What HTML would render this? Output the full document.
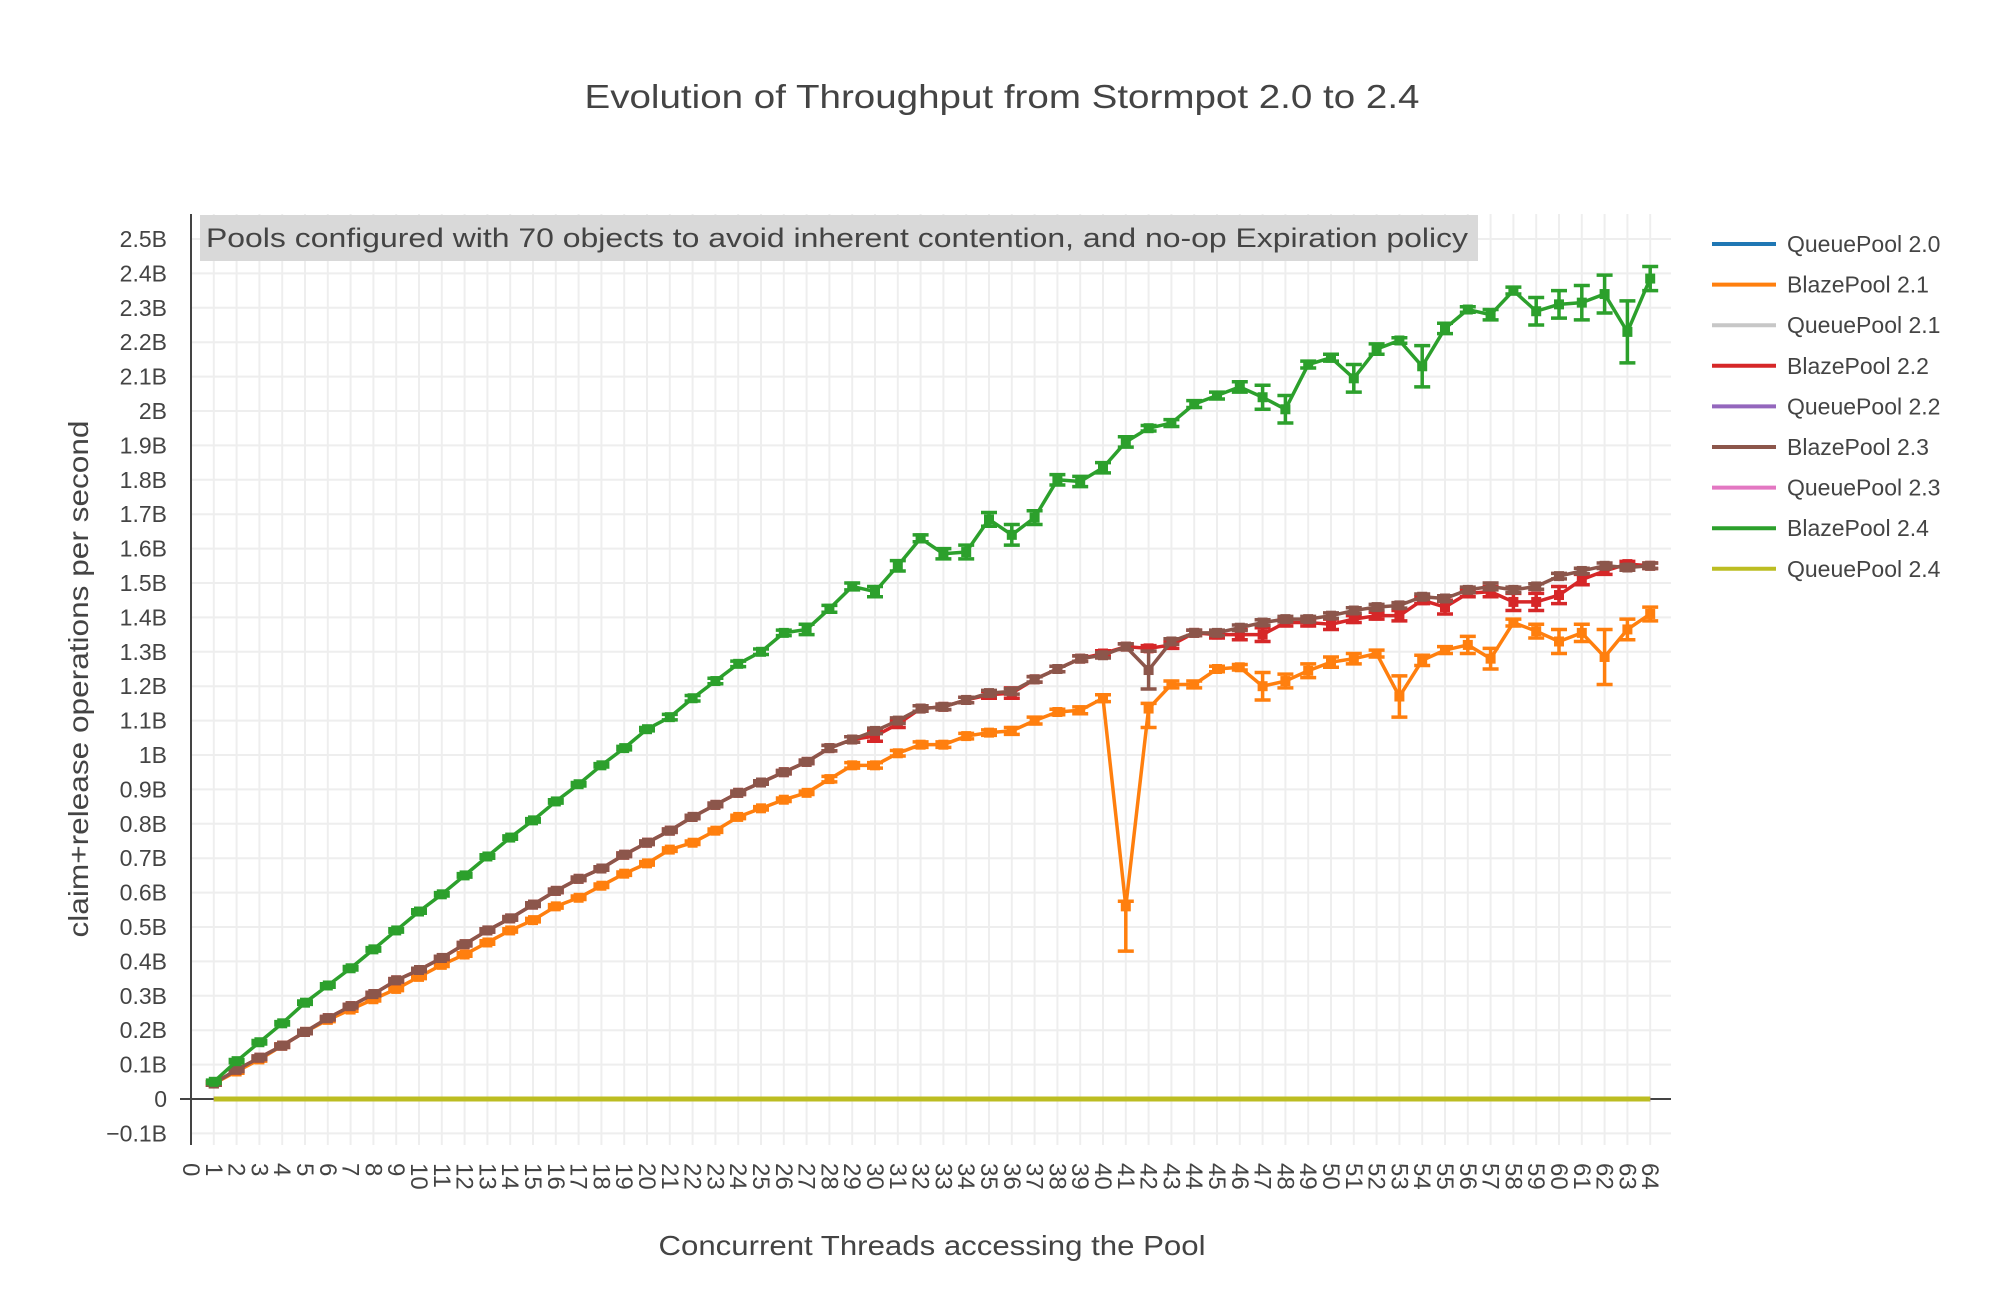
<!DOCTYPE html>
<html><head><meta charset="utf-8"><style>
html,body{margin:0;padding:0;background:#fff;}
svg{display:block;font-family:"Liberation Sans",sans-serif;}
</style></head><body>
<svg id="chart" width="2000" height="1316" viewBox="0 0 2000 1316" xmlns="http://www.w3.org/2000/svg">
<rect width="2000" height="1316" fill="#fff"/>
<text x="1002" y="108" text-anchor="middle" font-size="33" fill="#444" textLength="835" lengthAdjust="spacingAndGlyphs">Evolution of Throughput from Stormpot 2.0 to 2.4</text>
<g id="grid"></g>
<g id="yticks"></g>
<g id="xticks"></g>
<line x1="180" y1="1099" x2="1671" y2="1099" stroke="#444" stroke-width="2" id="zeroline"/>
<g id="series"></g>
<line x1="191" y1="214" x2="191" y2="1145" stroke="#444" stroke-width="2"/>
<g>
<rect x="200" y="215" width="1278" height="46" fill="#d9d9d9"/>
<text x="206" y="247" font-size="27" fill="#444" textLength="1262" lengthAdjust="spacingAndGlyphs">Pools configured with 70 objects to avoid inherent contention, and no-op Expiration policy</text>
</g>
<text x="932" y="1255" text-anchor="middle" font-size="28" fill="#444" textLength="547" lengthAdjust="spacingAndGlyphs">Concurrent Threads accessing the Pool</text>
<text transform="translate(88,679) rotate(-90)" text-anchor="middle" font-size="28" fill="#444" textLength="517" lengthAdjust="spacingAndGlyphs">claim+release operations per second</text>
<g id="legend"></g>
</svg>
<script>
var threads = [];
for (var t = 1; t <= 64; t++) threads.push(t);
var yTickValues = [-0.1,0,0.1,0.2,0.3,0.4,0.5,0.6,0.7,0.8,0.9,1,1.1,1.2,1.3,1.4,1.5,1.6,1.7,1.8,1.9,2,2.1,2.2,2.3,2.4,2.5];
var yTickLabels = ["−0.1B","0","0.1B","0.2B","0.3B","0.4B","0.5B","0.6B","0.7B","0.8B","0.9B","1B","1.1B","1.2B","1.3B","1.4B","1.5B","1.6B","1.7B","1.8B","1.9B","2B","2.1B","2.2B","2.3B","2.4B","2.5B"];
var xTickValues = [];
for (var k = 0; k <= 64; k++) xTickValues.push(k);

var seriesNames = ["QueuePool 2.0","BlazePool 2.1","QueuePool 2.1","BlazePool 2.2","QueuePool 2.2","BlazePool 2.3","QueuePool 2.3","BlazePool 2.4","QueuePool 2.4"];
var seriesColors = ["#1f77b4","#ff7f0e","#c7c7c7","#d62728","#9467bd","#8c564b","#e377c2","#2ca02c","#bcbd22"];

var zeros = [0,0,0,0,0,0,0,0,0,0,0,0,0,0,0,0,0,0,0,0,0,0,0,0,0,0,0,0,0,0,0,0,0,0,0,0,0,0,0,0,0,0,0,0,0,0,0,0,0,0,0,0,0,0,0,0,0,0,0,0,0,0,0,0];

var blaze21 = [0.045,0.08,0.115,0.155,0.195,0.23,0.26,0.29,0.32,0.355,0.39,0.42,0.455,0.49,0.52,0.56,0.585,0.62,0.655,0.685,0.725,0.745,0.78,0.82,0.845,0.87,0.89,0.93,0.97,0.97,1.005,1.03,1.03,1.055,1.065,1.07,1.10,1.125,1.13,1.165,0.56,1.135,1.205,1.205,1.25,1.255,1.20,1.215,1.245,1.27,1.28,1.295,1.17,1.275,1.305,1.32,1.28,1.385,1.36,1.33,1.355,1.285,1.365,1.41];
var blaze21ErrUp = [0.005,0.005,0.005,0.005,0.005,0.005,0.005,0.005,0.005,0.005,0.005,0.005,0.005,0.005,0.005,0.005,0.005,0.005,0.005,0.005,0.005,0.005,0.005,0.005,0.005,0.005,0.005,0.008,0.008,0.008,0.008,0.008,0.008,0.008,0.008,0.01,0.01,0.008,0.01,0.01,0.015,0.015,0.01,0.01,0.008,0.008,0.04,0.02,0.02,0.015,0.015,0.01,0.06,0.015,0.01,0.025,0.03,0.01,0.02,0.035,0.025,0.08,0.03,0.02];
var blaze21ErrDown = [0.005,0.005,0.005,0.005,0.005,0.005,0.005,0.005,0.005,0.005,0.005,0.005,0.005,0.005,0.005,0.005,0.005,0.005,0.005,0.005,0.005,0.005,0.005,0.005,0.005,0.005,0.005,0.008,0.008,0.008,0.008,0.008,0.008,0.008,0.008,0.01,0.01,0.008,0.01,0.01,0.13,0.055,0.01,0.01,0.008,0.008,0.04,0.02,0.02,0.015,0.015,0.01,0.06,0.015,0.01,0.025,0.03,0.01,0.02,0.035,0.025,0.08,0.03,0.02];

var blaze22 = [0.045,0.085,0.12,0.155,0.195,0.235,0.27,0.305,0.345,0.375,0.41,0.45,0.49,0.525,0.565,0.605,0.64,0.67,0.71,0.745,0.78,0.82,0.855,0.89,0.92,0.95,0.98,1.02,1.045,1.055,1.09,1.135,1.14,1.16,1.175,1.18,1.22,1.25,1.28,1.295,1.315,1.31,1.32,1.355,1.35,1.35,1.35,1.385,1.385,1.38,1.395,1.405,1.405,1.45,1.43,1.47,1.475,1.445,1.445,1.465,1.51,1.535,1.555,1.55];
var blaze22Err = [0.005,0.005,0.005,0.005,0.005,0.005,0.005,0.005,0.005,0.005,0.005,0.005,0.005,0.005,0.005,0.005,0.005,0.005,0.005,0.005,0.005,0.005,0.005,0.005,0.005,0.005,0.005,0.008,0.008,0.015,0.01,0.008,0.008,0.008,0.01,0.015,0.008,0.008,0.008,0.008,0.008,0.008,0.01,0.008,0.01,0.015,0.02,0.01,0.01,0.015,0.01,0.01,0.015,0.01,0.02,0.01,0.015,0.025,0.025,0.025,0.015,0.01,0.008,0.008];

var blaze23 = [0.045,0.085,0.12,0.155,0.195,0.235,0.27,0.305,0.345,0.375,0.41,0.45,0.49,0.525,0.565,0.605,0.64,0.67,0.71,0.745,0.78,0.82,0.855,0.89,0.92,0.95,0.98,1.02,1.045,1.07,1.10,1.135,1.14,1.16,1.18,1.185,1.22,1.25,1.28,1.29,1.315,1.247,1.33,1.355,1.355,1.37,1.385,1.395,1.395,1.405,1.42,1.43,1.435,1.46,1.455,1.48,1.49,1.48,1.49,1.52,1.535,1.55,1.545,1.55];
var blaze23Err = [0.005,0.005,0.005,0.005,0.005,0.005,0.005,0.005,0.005,0.005,0.005,0.005,0.005,0.005,0.005,0.005,0.005,0.005,0.005,0.005,0.005,0.005,0.005,0.005,0.005,0.005,0.005,0.008,0.008,0.008,0.008,0.008,0.008,0.008,0.008,0.008,0.008,0.008,0.008,0.008,0.008,0.055,0.008,0.008,0.008,0.008,0.008,0.008,0.008,0.008,0.008,0.008,0.008,0.008,0.008,0.008,0.01,0.008,0.008,0.008,0.008,0.008,0.008,0.008];

var blaze24 = [0.05,0.11,0.165,0.22,0.28,0.33,0.38,0.435,0.49,0.545,0.595,0.65,0.705,0.76,0.81,0.865,0.915,0.97,1.02,1.075,1.11,1.165,1.215,1.265,1.30,1.355,1.365,1.425,1.49,1.475,1.55,1.63,1.585,1.59,1.685,1.64,1.69,1.80,1.795,1.835,1.91,1.95,1.965,2.02,2.045,2.07,2.04,2.005,2.135,2.155,2.095,2.18,2.205,2.13,2.24,2.295,2.28,2.35,2.29,2.31,2.315,2.34,2.23,2.385];
var blaze24Err = [0.005,0.005,0.005,0.005,0.005,0.005,0.005,0.005,0.005,0.005,0.005,0.005,0.005,0.005,0.005,0.005,0.005,0.005,0.005,0.005,0.008,0.008,0.008,0.008,0.008,0.008,0.015,0.01,0.01,0.015,0.015,0.01,0.015,0.02,0.02,0.03,0.02,0.015,0.015,0.015,0.015,0.008,0.01,0.01,0.01,0.015,0.035,0.04,0.01,0.01,0.04,0.015,0.008,0.06,0.015,0.008,0.015,0.01,0.04,0.04,0.05,0.055,0.09,0.035];

var seriesValues = [zeros, blaze21, zeros, blaze22, zeros, blaze23, zeros, blaze24, zeros];
var seriesErrUp = [null, blaze21ErrUp, null, blaze22Err, null, blaze23Err, null, blaze24Err, null];
var seriesErrDown = [null, blaze21ErrDown, null, blaze22Err, null, blaze23Err, null, blaze24Err, null];

var X0 = 191, XSTEP = 22.8, Y0 = 1099, YSTEP = 344;
function xScale(v){ return X0 + v * XSTEP; }
function yScale(v){ return Y0 - v * YSTEP; }
var NS = "http://www.w3.org/2000/svg";
function mk(tag, attrs, parent){
  var el = document.createElementNS(NS, tag);
  for (var key in attrs) el.setAttribute(key, attrs[key]);
  parent.appendChild(el);
  return el;
}
var grid = document.getElementById('grid');
var yt = document.getElementById('yticks');
var xt = document.getElementById('xticks');
yTickValues.forEach(function(v, i){
  var y = yScale(v);
  if (v !== 0) {
    var gl = mk('line', {x1:192, x2:1671, y1:y, y2:y, stroke:'#eeeeee', 'stroke-width':2}, grid);
    
    
  }
  var tl = mk('text', {x:167, y:y + 8, 'text-anchor':'end', 'font-size':23, fill:'#444'}, yt);
  tl.textContent = yTickLabels[i];
  
  
});
xTickValues.forEach(function(v){
  var x = xScale(v);
  if (v !== 0) {
    var gl = mk('line', {x1:x, x2:x, y1:214, y2:1145, stroke:'#eeeeee', 'stroke-width':2}, grid);
    
    
  }
  var tl = mk('text', {transform:'translate(' + (x - 8) + ',1163) rotate(90)', 'text-anchor':'start', 'font-size':24, fill:'#444'}, xt);
  tl.textContent = String(v);
  
  
});
var sg = document.getElementById('series');
var order = [0,1,2,3,4,5,6,7,8];
order.forEach(function(si){
  var vals = seriesValues[si], col = seriesColors[si];
  var g = mk('g', {}, sg);
  
  
  var pts = vals.map(function(v, i){ return xScale(threads[i]) + ',' + yScale(v); }).join(' ');
  var pl = mk('polyline', {points:pts, fill:'none', stroke:col, 'stroke-width':seriesErrUp[si] ? 3.5 : 5, 'stroke-linejoin':'round'}, g);
  
  
  if (seriesErrUp[si]) {
    vals.forEach(function(v, i){
      var x = xScale(threads[i]);
      var yu = yScale(v + seriesErrUp[si][i]), yd = yScale(v - seriesErrDown[si][i]);
      var eb = mk('path', {d:'M' + x + ',' + yu + 'V' + yd + 'M' + (x - 8) + ',' + yu + 'H' + (x + 8) + 'M' + (x - 8) + ',' + yd + 'H' + (x + 8), stroke:col, 'stroke-width':3.5, fill:'none'}, g);
      
      
      var y = yScale(v);
      var m = mk('rect', {x:x - 5, y:y - 5, width:10, height:10, fill:col}, g);
      
      
    });
  }
});
var lg = document.getElementById('legend');
seriesNames.forEach(function(n, i){
  var y = 244 + i * 40.6;
  var e = mk('g', {}, lg);
  
  
  mk('line', {x1:1712, x2:1776, y1:y, y2:y, stroke:seriesColors[i], 'stroke-width':4}, e);
  var t = mk('text', {x:1787, y:y + 8, 'font-size':23, fill:'#444'}, e);
  t.textContent = n;
});
</script>
</body></html>
